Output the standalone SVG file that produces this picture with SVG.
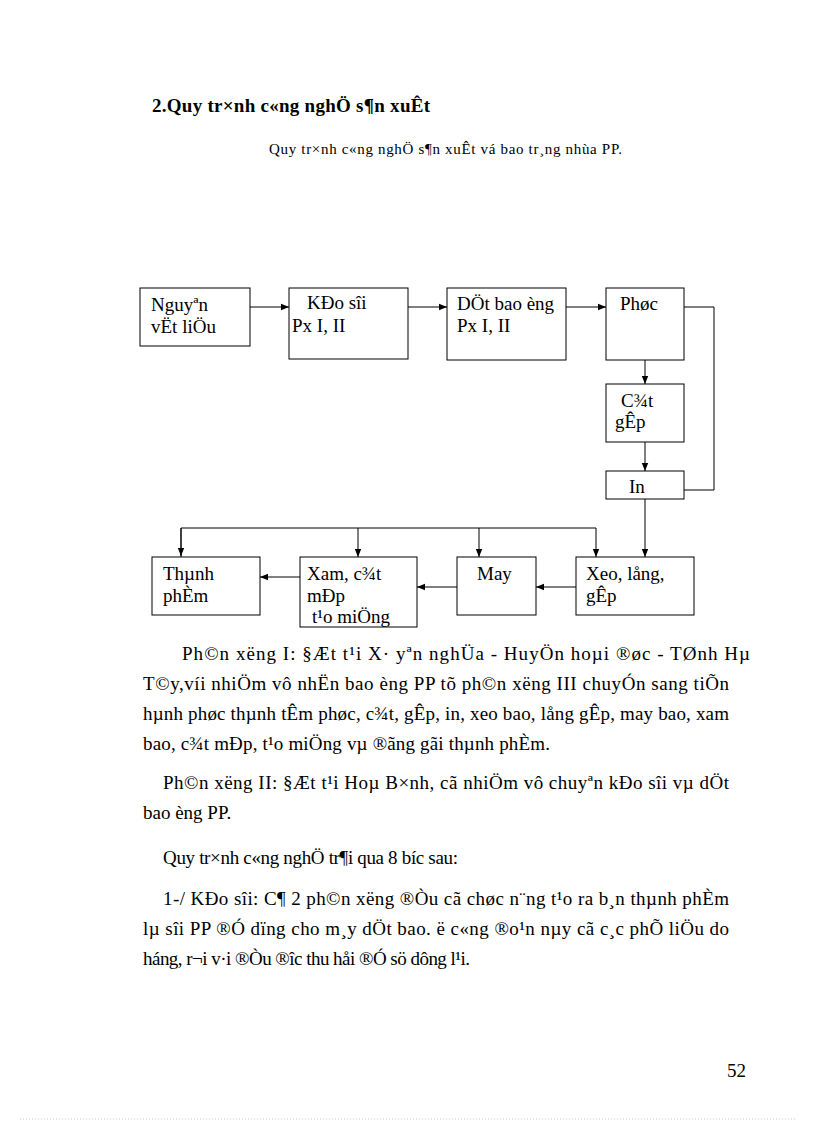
<svg xmlns="http://www.w3.org/2000/svg" width="816" height="1123" viewBox="0 0 816 1123">
<style>
.t{font-family:"Liberation Serif","Times New Roman",serif;font-size:19px;fill:#000}
.b{font-weight:bold}
.s{font-size:15px}
.box{fill:#fff;stroke:#000;stroke-width:1}
.ln{fill:none;stroke:#000;stroke-width:1}
.ar{fill:none;stroke:#000;stroke-width:1;marker-end:url(#ah)}
</style>
<defs>
<marker id="ah" viewBox="0 0 10 10" refX="10" refY="5" markerWidth="8" markerHeight="8" markerUnits="userSpaceOnUse" orient="auto">
<path d="M0,1 L10,5 L0,9 Z" fill="#000"/>
</marker>
<clipPath id="cXam"><rect x="300" y="557" width="117" height="70"/></clipPath>
</defs>
<rect width="816" height="1123" fill="#fff"/>

<text class="t b" x="152" y="112" textLength="278">2.Quy tr×nh  c«ng nghÖ s¶n xuÊt</text>
<text class="t s" x="269" y="154" textLength="353">Quy tr×nh  c«ng  nghÖ  s¶n xuÊt  vá bao tr¸ng  nhùa  PP.</text>

<g id="connectors">
<line class="ar" x1="250" y1="307" x2="289" y2="307"/>
<line class="ar" x1="408" y1="307" x2="447" y2="307"/>
<line class="ar" x1="566" y1="307" x2="606" y2="307"/>
<polyline class="ln" points="684,307 714,307 714,490 684,490"/>
<line class="ar" x1="645" y1="356" x2="645" y2="384"/>
<line class="ar" x1="645" y1="442" x2="645" y2="471"/>
<line class="ar" x1="645" y1="499" x2="645" y2="557"/>
<polyline class="ln" points="181,556 181,528 596,528"/>
<line class="ar" x1="181" y1="528" x2="181" y2="556"/>
<line class="ar" x1="181" y1="556" x2="181" y2="565"/>
<line class="ar" x1="358" y1="528" x2="358" y2="557"/>
<line class="ar" x1="479" y1="528" x2="479" y2="557"/>
<line class="ar" x1="596" y1="528" x2="596" y2="557"/>
<line class="ar" x1="576" y1="587" x2="536" y2="587"/>
<line class="ar" x1="457" y1="587" x2="417" y2="587"/>
<line class="ar" x1="300" y1="577" x2="260" y2="577"/>
</g>

<g id="n-nguyen">
<rect class="box" x="140" y="288" width="110" height="58"/>
<text class="t" x="151" y="311">Nguyªn</text>
<text class="t" x="151" y="333">vËt liÖu</text>
</g>
<g id="n-keo">
<rect class="box" x="289" y="288" width="119" height="71"/>
<text class="t" x="307" y="309">KÐo sîi</text>
<text class="t" x="292" y="332">Px I, II</text>
</g>
<g id="n-det">
<rect class="box" x="447" y="288" width="119" height="72"/>
<text class="t" x="457" y="310">DÖt bao èng</text>
<text class="t" x="457" y="332">Px I, II</text>
</g>
<g id="n-phuc">
<rect class="box" x="606" y="288" width="78" height="72"/>
<text class="t" x="620" y="310">Phøc</text>
</g>
<g id="n-cat">
<rect class="box" x="606" y="384" width="78" height="58"/>
<text class="t" x="621" y="407">C¾t</text>
<text class="t" x="615" y="428">gÊp</text>
</g>
<g id="n-in">
<rect class="box" x="606" y="471" width="78" height="28"/>
<text class="t" x="629" y="493">In</text>
</g>
<g id="n-thanh">
<rect class="box" x="152" y="557" width="108" height="58"/>
<text class="t" x="163" y="580">Thµnh</text>
<text class="t" x="163" y="602">phÈm</text>
</g>
<g id="n-xam">
<rect class="box" x="300" y="557" width="117" height="70"/>
<g clip-path="url(#cXam)">
<text class="t" x="307" y="580">Xam, c¾t</text>
<text class="t" x="307" y="602">mÐp</text>
<text class="t" x="312" y="623">t¹o miÖng</text>
</g>
</g>
<g id="n-may">
<rect class="box" x="457" y="557" width="79" height="58"/>
<text class="t" x="477" y="580">May</text>
</g>
<g id="n-xeo">
<rect class="box" x="576" y="557" width="118" height="58"/>
<text class="t" x="586" y="580">Xeo, lång,</text>
<text class="t" x="586" y="602">gÊp</text>
</g>

<g id="body">
<text class="t" x="182" y="660" textLength="568">Ph©n xëng  I: §Æt t¹i X· yªn nghÜa - HuyÖn hoµi ®øc - TØnh Hµ</text>
<text class="t" x="143" y="690" textLength="586">T©y,víi nhiÖm vô nhËn bao èng PP tõ ph©n xëng  III chuyÓn sang tiÕn</text>
<text class="t" x="143" y="720" textLength="586">hµnh phøc thµnh tÊm phøc, c¾t, gÊp, in, xeo bao, lång gÊp, may bao, xam</text>
<text class="t" x="143" y="750" textLength="407">bao, c¾t mÐp, t¹o miÖng vµ ®ãng gãi thµnh phÈm.</text>
<text class="t" x="163" y="789" textLength="566">Ph©n xëng  II: §Æt t¹i Hoµ B×nh, cã nhiÖm vô chuyªn kÐo sîi vµ dÖt</text>
<text class="t" x="143" y="819">bao èng PP.</text>
<text class="t" x="163" y="864" textLength="295">Quy tr×nh c«ng nghÖ tr¶i qua 8 bíc  sau:</text>
<text class="t" x="163" y="905" textLength="566">1-/ KÐo sîi: C¶ 2 ph©n xëng  ®Òu cã chøc n¨ng t¹o ra b¸n thµnh phÈm</text>
<text class="t" x="143" y="935" textLength="586">lµ  sîi PP ®Ó dïng cho m¸y dÖt bao. ë c«ng ®o¹n nµy cã c¸c phÕ liÖu  do</text>
<text class="t" x="143" y="965" textLength="327">háng, r¬i v·i ®Òu ®îc  thu håi ®Ó sö dông l¹i.</text>
<text class="t" x="727" y="1077">52</text>
</g>
<line x1="20" y1="1119" x2="796" y2="1119" stroke="#c8c8c8" stroke-width="1" stroke-dasharray="1,2"/>
</svg>
